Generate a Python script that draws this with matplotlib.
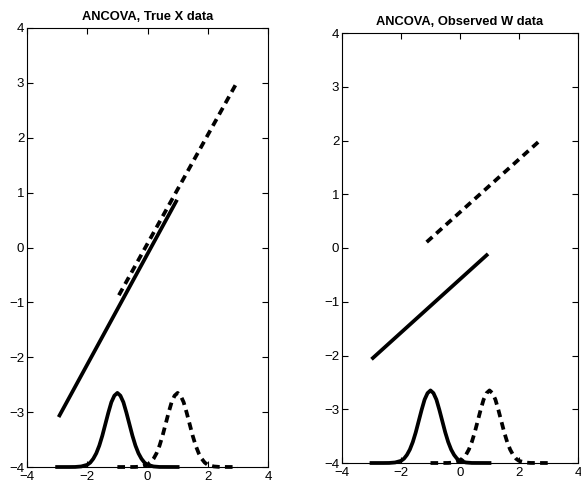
import matplotlib
matplotlib.use("Agg")
import matplotlib.pyplot as plt
import numpy as np

plt.rcParams['font.family'] = ['Liberation Sans', 'DejaVu Sans']
plt.rcParams['lines.scale_dashes'] = False

# ---- data ----
titles = ["ANCOVA, True X data", "ANCOVA, Observed W data"]

# left panel (true X): regression lines (x endpoints, y endpoints)
left_solid_x = [-2.95, 0.98]
left_solid_y = [-3.09, 0.87]
left_dash_x = [-0.95, 2.92]
left_dash_y = [-0.87, 2.96]

# right panel (observed W)
right_solid_x = [-3.0, 0.95]
right_solid_y = [-2.07, -0.11]
right_dash_x = [-1.13, 2.67]
right_dash_y = [0.11, 1.98]

# density curves (x, height above the -4 baseline)
dens_solid_x = [-3.0, -2.6, -2.4, -2.2, -2.0, -1.9, -1.8, -1.7, -1.6, -1.5, -1.4, -1.3,
                -1.2, -1.1, -1.0, -0.9, -0.8, -0.7, -0.6, -0.5, -0.4, -0.3, -0.2,
                -0.1, 0.0, 0.2, 0.4, 1.0]
dens_solid_h = [0.0, 0.0, 0.001, 0.01, 0.04, 0.08, 0.15, 0.25, 0.39, 0.57, 0.78, 0.99,
                1.18, 1.30, 1.35, 1.30, 1.18, 0.99, 0.78, 0.57, 0.39, 0.25, 0.15,
                0.08, 0.04, 0.01, 0.001, 0.0]
dens_dash_x = [-1.0, -0.6, -0.4, -0.2, 0.0, 0.1, 0.2, 0.3, 0.4, 0.5, 0.6, 0.7,
               0.8, 0.9, 1.0, 1.1, 1.2, 1.3, 1.4, 1.5, 1.6, 1.7, 1.8,
               1.9, 2.0, 2.2, 2.4, 3.0]
dens_dash_h = [0.0, 0.0, 0.001, 0.01, 0.04, 0.08, 0.15, 0.25, 0.39, 0.57, 0.78, 0.99,
               1.18, 1.30, 1.35, 1.30, 1.18, 0.99, 0.78, 0.57, 0.39, 0.25, 0.15,
               0.08, 0.04, 0.01, 0.001, 0.0]
baseline = -4.0

xticks = [-4, -2, 0, 2, 4]
yticks = [-4, -3, -2, -1, 0, 1, 2, 3, 4]

fig = plt.figure(figsize=(5.81, 4.82), dpi=100)
ax1 = fig.add_axes([27/581, 1-467/482, 241/581, 439/482])
ax2 = fig.add_axes([342/581, 1-463/482, 236/581, 430/482])

lw = 2.7
dash = (0, (5.5, 3.8))

panels = [
    (ax1, left_solid_x, left_solid_y, left_dash_x, left_dash_y),
    (ax2, right_solid_x, right_solid_y, right_dash_x, right_dash_y),
]
for i, (ax, sx, sy, dx, dy) in enumerate(panels):
    ax.plot(sx, sy, color='black', lw=lw, solid_capstyle='butt')
    ax.plot(dx, dy, color='black', lw=lw, linestyle=dash, dash_capstyle='butt')
    ax.plot(dens_solid_x, np.array(dens_solid_h) + baseline, color='black', lw=lw,
            clip_on=False)
    ax.plot(dens_dash_x, np.array(dens_dash_h) + baseline, color='black', lw=lw,
            linestyle=dash, clip_on=False)
    ax.set_xlim(-4, 4)
    ax.set_ylim(-4, 4)
    ax.set_xticks(xticks)
    ax.set_yticks(yticks)
    ax.set_xticklabels([str(t).replace('-', '\u2212') for t in xticks])
    ax.set_yticklabels([str(t).replace('-', '\u2212') for t in yticks])
    ax.tick_params(direction='in', top=True, right=True, length=4, width=0.8,
                   labelsize=9.5)
    ax.tick_params(axis='x', pad=3)
    ax.tick_params(axis='y', pad=2)
    for s in ax.spines.values():
        s.set_linewidth(0.8)
    ax.set_title(titles[i], fontsize=9.3, fontweight='bold', pad=6)

fig.savefig("out.png", dpi=100)
